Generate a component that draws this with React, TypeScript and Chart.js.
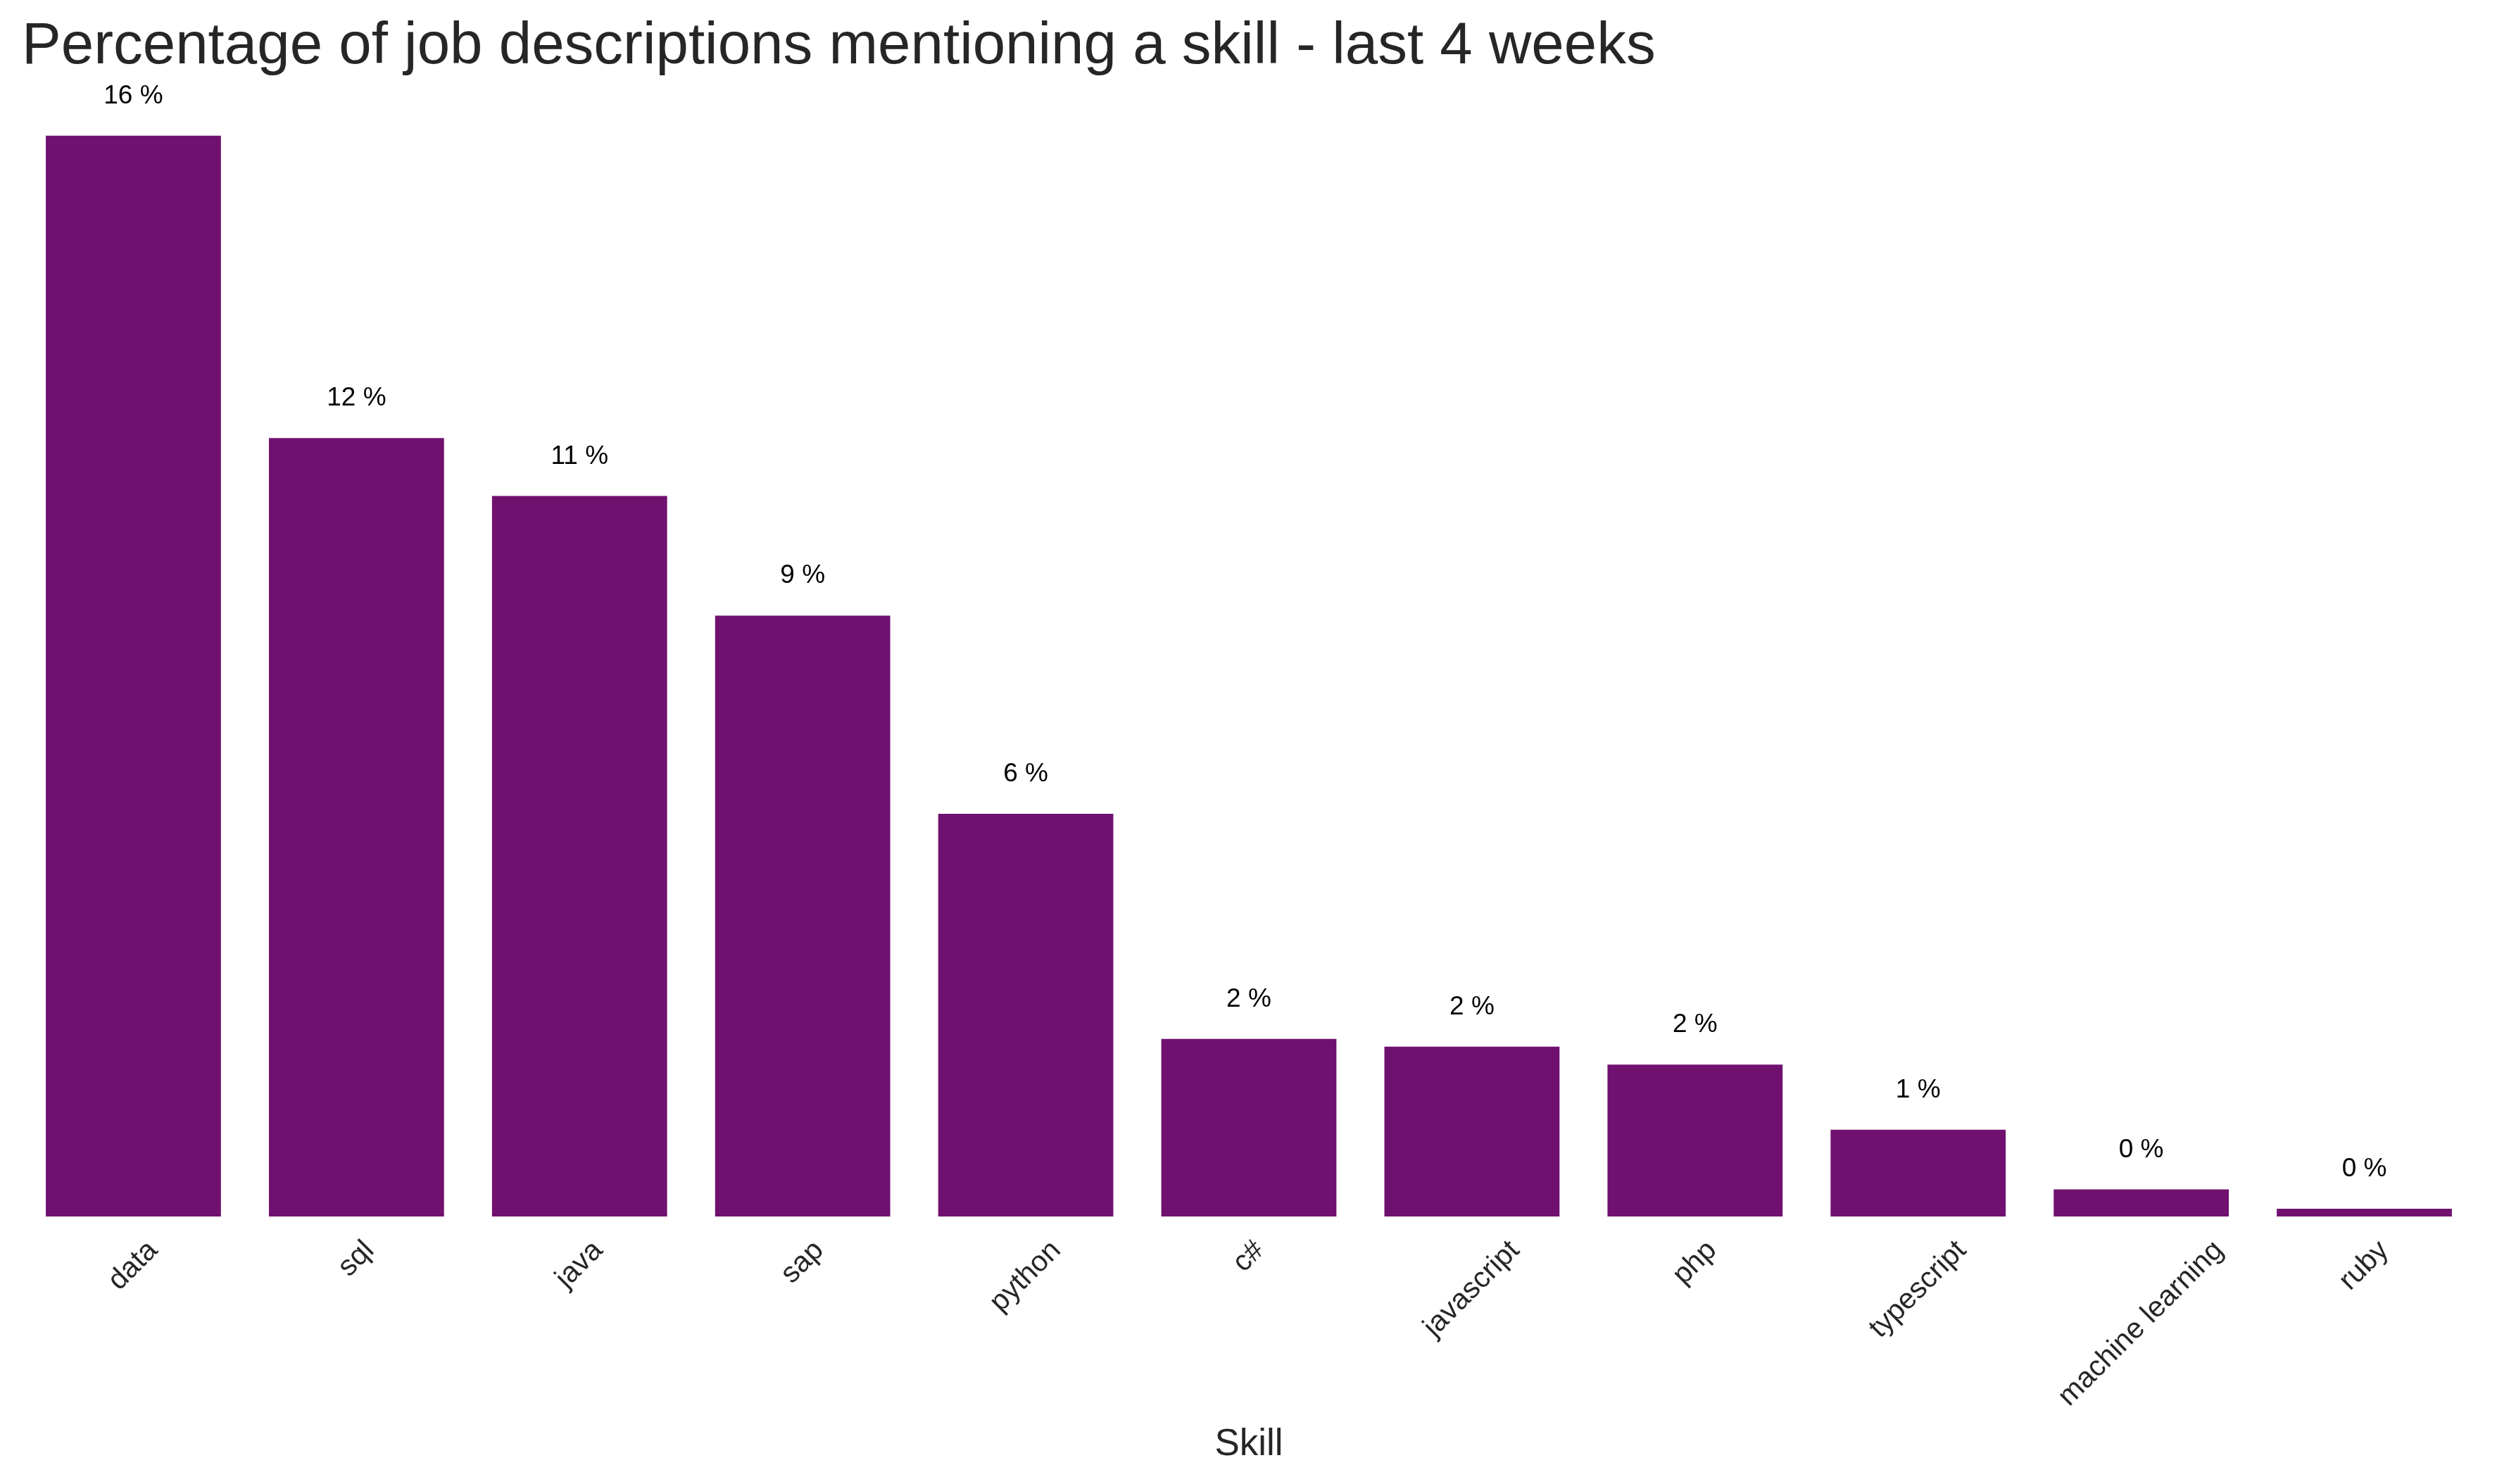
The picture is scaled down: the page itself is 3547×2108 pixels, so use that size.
import React, { useEffect, useRef } from "react";
import { Chart, registerables } from "chart.js";

Chart.register(...registerables);

const TITLE = "Percentage of job descriptions mentioning a skill - last 4 weeks";
const X_TITLE = "Skill";
const SKILLS = [
  "data",
  "sql",
  "java",
  "sap",
  "python",
  "c#",
  "javascript",
  "php",
  "typescript",
  "machine learning",
  "ruby",
];
const PERCENTAGES = [16.8, 12.1, 11.2, 9.34, 6.26, 2.76, 2.64, 2.36, 1.35, 0.42, 0.12];
const Y_MAX = 17.64;

const W = 3547;
const H = 2108;
const FONT = '"Liberation Sans", Arial, sans-serif';
const BAR_COLOR = "#701170";
const TEXT_DARK = "#262626";

const overlayPlugin = {
  id: "overlay",
  afterDraw(chart: any) {
    const ctx = chart.ctx as CanvasRenderingContext2D;
    const area = chart.chartArea;
    const xs = chart.scales.x;
    const ys = chart.scales.y;
    ctx.save();

    // Title
    ctx.fillStyle = TEXT_DARK;
    ctx.font = `83.5px ${FONT}`;
    ctx.textAlign = "left";
    ctx.textBaseline = "alphabetic";
    ctx.fillText(TITLE, area.left, 90);

    // Value annotations
    ctx.fillStyle = "#000000";
    ctx.font = `37px ${FONT}`;
    ctx.textAlign = "center";
    PERCENTAGES.forEach((v, i) => {
      const x = xs.getPixelForValue(i);
      const y = ys.getPixelForValue(v);
      ctx.fillText(`${Math.floor(v)} %`, x, y - 46);
    });

    // Rotated tick labels
    const fs = 41;
    ctx.font = `${fs}px ${FONT}`;
    ctx.fillStyle = TEXT_DARK;
    ctx.textAlign = "center";
    ctx.textBaseline = "middle";
    const topY = area.bottom + 26;
    SKILLS.forEach((s, i) => {
      const x = xs.getPixelForValue(i);
      const w = ctx.measureText(s).width;
      const h = fs * 1.1;
      const half = ((w + h) * Math.SQRT1_2) / 2;
      ctx.save();
      ctx.translate(x, topY + half);
      ctx.rotate(-Math.PI / 4);
      ctx.fillText(s, 0, 0);
      ctx.restore();
    });

    // X axis title
    ctx.font = `53px ${FONT}`;
    ctx.textAlign = "center";
    ctx.textBaseline = "alphabetic";
    ctx.fillStyle = TEXT_DARK;
    ctx.fillText(X_TITLE, (area.left + area.right) / 2, area.bottom + 339);

    ctx.restore();
  },
};

export default function App() {
  const ref = useRef<HTMLCanvasElement | null>(null);

  useEffect(() => {
    if (!ref.current) return;
    const chart = new Chart(ref.current, {
      type: "bar",
      data: {
        labels: SKILLS,
        datasets: [
          {
            data: PERCENTAGES,
            backgroundColor: BAR_COLOR,
            borderWidth: 0,
            barPercentage: 0.785,
            categoryPercentage: 1.0,
          },
        ],
      },
      options: {
        animation: false,
        responsive: false,
        devicePixelRatio: 1,
        layout: { padding: { left: 31, right: 30, top: 116, bottom: 380 } },
        plugins: {
          legend: { display: false },
          tooltip: { enabled: false },
          title: { display: false },
        },
        scales: {
          x: { type: "category", display: false, offset: true },
          y: { display: false, min: 0, max: Y_MAX },
        },
      },
      plugins: [overlayPlugin],
    });
    return () => chart.destroy();
  }, []);

  return (
    <div style={{ position: "absolute", left: 0, top: 0, width: W, height: H, background: "#ffffff" }}>
      <canvas ref={ref} width={W} height={H} style={{ width: W, height: H, display: "block" }} />
    </div>
  );
}
